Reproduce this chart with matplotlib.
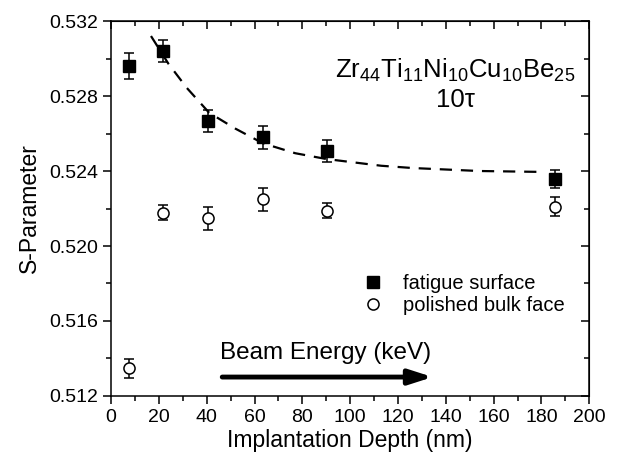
import numpy as np
import matplotlib
matplotlib.use("Agg")
import matplotlib.pyplot as plt
from matplotlib.lines import Line2D

plt.rcParams['font.family'] = ['Liberation Sans', 'DejaVu Sans']
plt.rcParams['mathtext.fontset'] = 'custom'
plt.rcParams['mathtext.rm'] = 'Liberation Sans'

# fatigue surface (filled squares)
depth_fat = [7.5, 21.6, 40.4, 63.5, 90.2, 185.8]
s_fat = [0.5296, 0.5304, 0.52668, 0.5258, 0.52508, 0.52357]
err_fat = [0.0007, 0.0006, 0.0006, 0.0006, 0.0006, 0.0005]

# polished bulk face (open circles)
depth_pol = [7.5, 21.6, 40.4, 63.5, 90.2, 185.8]
s_pol = [0.51348, 0.52178, 0.52148, 0.52249, 0.52188, 0.5221]
err_pol = [0.0005, 0.0004, 0.0006, 0.0006, 0.0004, 0.0005]

# dashed guide curve
fit_x = [16.7, 24, 31.7, 41, 52, 63.5, 77, 90, 113, 126, 154, 181]
fit_y = [0.5312, 0.52972, 0.52843, 0.52711, 0.52626, 0.52548, 0.52495,
         0.52464, 0.52428, 0.52416, 0.5240, 0.52395]

fig = plt.figure(figsize=(6.17, 4.58), dpi=100)
ax = fig.add_axes([0.18, 0.1354, 0.775, 0.8187])

ax.plot(fit_x, fit_y, ls=(0, (5.5, 4)), color='black', lw=1.6, zorder=1)
ax.errorbar(depth_fat, s_fat, yerr=err_fat, fmt='s', color='black', ms=8.5,
            capsize=3.5, elinewidth=1.1, capthick=1.1, zorder=3)
ax.errorbar(depth_pol, s_pol, yerr=err_pol, fmt='o', mfc='white', mec='black',
            mew=1.1, color='black', ms=8, capsize=3.5, elinewidth=1.1, capthick=1.1,
            zorder=3)

ax.set_xlim(0, 200)
ax.set_ylim(0.512, 0.532)
ax.set_xticks(np.arange(0, 201, 20))
ax.set_xticks(np.arange(0, 201, 10), minor=True)
ax.set_yticks(np.arange(0.512, 0.5321, 0.004))
ax.set_yticks(np.arange(0.512, 0.5321, 0.002), minor=True)
ax.yaxis.set_major_formatter(matplotlib.ticker.FormatStrFormatter('%.3f'))
ax.tick_params(which='both', direction='out', labelsize=14, width=1.1)
ax.tick_params(which='major', length=6)
ax.tick_params(which='minor', length=3.5)
for sp in ax.spines.values():
    sp.set_linewidth(1.1)

# mirrored ticks on top and right, pointing inwards
top = ax.secondary_xaxis('top')
top.set_xticks(np.arange(0, 201, 20))
top.set_xticks(np.arange(0, 201, 10), minor=True)
top.tick_params(which='both', direction='in', labeltop=False, width=1.1)
top.tick_params(which='major', length=6)
top.tick_params(which='minor', length=3.5)
right = ax.secondary_yaxis('right')
right.set_yticks(np.arange(0.512, 0.5321, 0.004))
right.set_yticks(np.arange(0.512, 0.5321, 0.002), minor=True)
right.tick_params(which='both', direction='in', labelright=False, width=1.1)
right.tick_params(which='major', length=6)
right.tick_params(which='minor', length=3.5)

ax.set_xlabel('Implantation Depth (nm)', fontsize=16.5, labelpad=2)
ax.set_ylabel('S-Parameter', fontsize=16.5, labelpad=6)

ax.text(144, 0.5294, r'Zr$_{44}$Ti$_{11}$Ni$_{10}$Cu$_{10}$Be$_{25}$', fontsize=18.5,
        ha='center', va='center')
ax.text(144, 0.52779, '10τ', fontsize=18.5, ha='center', va='center')

ax.text(45.5, 0.51429, 'Beam Energy (keV)', fontsize=17.5, ha='left', va='center')
ax.annotate('', xy=(134.5, 0.51301), xytext=(46.5, 0.51301),
            arrowprops=dict(arrowstyle='-|>,head_length=1.4,head_width=0.45',
                            color='black', lw=3.5, shrinkA=0, shrinkB=0))

handles = [Line2D([], [], ls='none', marker='s', color='black', ms=8.5),
           Line2D([], [], ls='none', marker='o', mfc='white', mec='black', mew=1.1, ms=8)]
ax.legend(handles, ['fatigue surface', 'polished bulk face'], loc='center left',
          bbox_to_anchor=(0.485, 0.27), frameon=False, fontsize=14.5,
          handletextpad=0.9, labelspacing=0.15, handlelength=1.2)

fig.savefig('out.png', dpi=100)
